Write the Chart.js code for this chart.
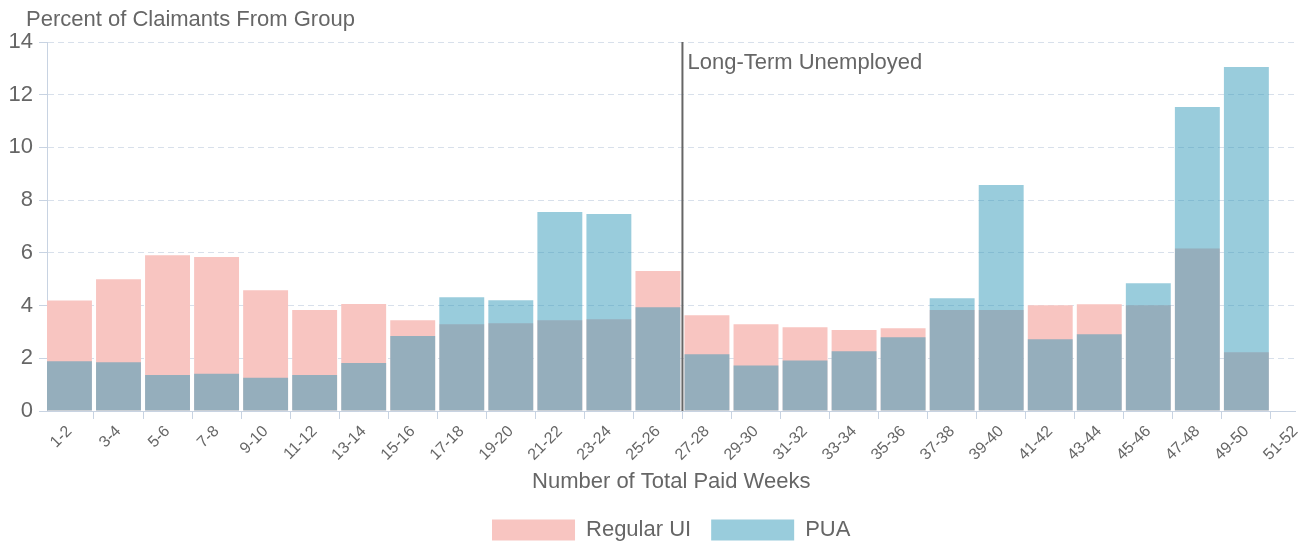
<!DOCTYPE html>
<html>
<head>
<meta charset="utf-8">
<script src="https://cdn.jsdelivr.net/npm/chart.js@4/dist/chart.umd.min.js"></script>
<style>
  html, body { margin: 0; padding: 0; background: #fff; }
  #wrap { width: 1312px; height: 544px; position: relative; }
</style>
</head>
<body>
<div id="wrap"><canvas id="grafico-semanas"></canvas></div>
<script>
// categorias do eixo x (semanas pagas)
var weekBins = ['1-2', '3-4', '5-6', '7-8', '9-10', '11-12', '13-14', '15-16', '17-18', '19-20',
    '21-22', '23-24', '25-26', '27-28', '29-30', '31-32', '33-34', '35-36', '37-38', '39-40',
    '41-42', '43-44', '45-46', '47-48', '49-50', '51-52'];

// percentuais
var regularUI = [4.19, 5.00, 5.91, 5.84, 4.58, 3.83, 4.06, 3.44, 3.29, 3.33,
    3.44, 3.48, 5.31, 3.63, 3.29, 3.18, 3.07, 3.14, 3.83, 3.83,
    4.01, 4.05, 4.01, 6.17, 2.23];
var pua = [1.89, 1.85, 1.37, 1.41, 1.26, 1.37, 1.82, 2.85, 4.32, 4.20,
    7.55, 7.47, 3.94, 2.15, 1.73, 1.92, 2.27, 2.80, 4.28, 8.57,
    2.72, 2.91, 4.85, 11.53, 13.05];

var yTicks = [0, 2, 4, 6, 8, 10, 12, 14];
var longTermLabel = 'Long-Term Unemployed';
var longTermStart = weekBins.indexOf('27-28') - 0.5;
var yTitle = 'Percent of Claimants From Group';
var xTitle = 'Number of Total Paid Weeks';

var fonte = '"Liberation Sans", Arial, sans-serif';
var corTexto = '#666';
var corEixo = '#c8d3e2';

Chart.defaults.font.family = fonte;
Chart.defaults.color = corTexto;

function pontos(valores) {
    return valores.map(function (v, i) { return { x: i, y: v }; });
}

// linha vertical + textos extras
var anotacoes = {
    id: 'anotacoes',
    afterLayout: function (chart) {
        // centraliza a legenda sob a area do grafico
        chart.legend.left = chart.chartArea.left;
        chart.legend.right = chart.chartArea.right;
    },
    afterDatasetsDraw: function (chart) {
        var ctx = chart.ctx;
        var area = chart.chartArea;
        var px = chart.scales.x.getPixelForValue(longTermStart);
        ctx.save();
        ctx.strokeStyle = '#666';
        ctx.lineWidth = 2;
        ctx.beginPath();
        ctx.moveTo(px, area.top);
        ctx.lineTo(px, area.bottom);
        ctx.stroke();

        ctx.fillStyle = corTexto;
        ctx.font = '22px ' + fonte;
        ctx.textBaseline = 'alphabetic';
        ctx.textAlign = 'left';
        ctx.fillText(longTermLabel, px + 5, area.top + 27);
        ctx.fillText(yTitle, area.left - 21, 26);
        ctx.restore();
    }
};

new Chart(document.getElementById('grafico-semanas').getContext('2d'), {
    type: 'bar',
    data: {
        datasets: [{
            label: 'PUA',
            data: pontos(pua),
            backgroundColor: 'rgba(42, 149, 182, 0.48)',
            borderWidth: 0
        }, {
            label: 'Regular UI',
            data: pontos(regularUI),
            backgroundColor: '#f8c5c1',
            borderWidth: 0
        }]
    },
    options: {
        responsive: true,
        maintainAspectRatio: false,
        animation: false,
        grouped: false,
        categoryPercentage: 1,
        barPercentage: 0.916,
        layout: {
            padding: { top: 42, right: 15, left: 0, bottom: -7 }
        },
        scales: {
            x: {
                type: 'linear',
                offset: false,
                min: -0.458,
                max: weekBins.length - 1,
                afterBuildTicks: function (scale) {
                    scale.ticks = weekBins.map(function (_, i) { return { value: i }; });
                },
                afterFit: function (scale) { scale.height = 88; },
                ticks: {
                    autoSkip: false,
                    minRotation: 45,
                    maxRotation: 45,
                    padding: 3,
                    font: { size: 16 },
                    callback: function (value) { return weekBins[value]; }
                },
                grid: {
                    drawOnChartArea: false,
                    drawTicks: true,
                    tickLength: 8,
                    tickColor: corEixo
                },
                border: { color: corEixo, width: 1 },
                title: {
                    display: true,
                    text: xTitle,
                    font: { size: 22 },
                    padding: { top: 0, bottom: 4 }
                }
            },
            y: {
                min: 0,
                max: 14,
                afterBuildTicks: function (scale) {
                    scale.ticks = yTicks.map(function (v) { return { value: v }; });
                },
                afterFit: function (scale) { scale.width = 47; },
                ticks: {
                    padding: 6,
                    font: { size: 22 }
                },
                grid: {
                    color: '#d8e0eb',
                    tickLength: 8,
                    tickColor: corEixo
                },
                border: { color: corEixo, width: 1, dash: [6, 4] }
            }
        },
        plugins: {
            legend: {
                position: 'bottom',
                reverse: true,
                labels: {
                    boxWidth: 83,
                    boxHeight: 21,
                    padding: 20,
                    font: { size: 22 },
                    color: corTexto
                }
            },
            tooltip: { enabled: false }
        }
    },
    plugins: [anotacoes]
});
</script>
</body>
</html>
